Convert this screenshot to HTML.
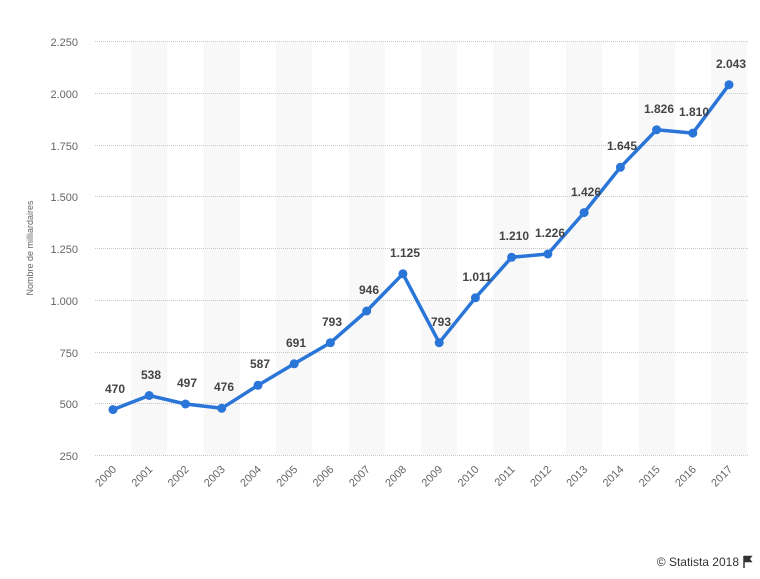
<!DOCTYPE html>
<html><head><meta charset="utf-8"><style>
html,body{margin:0;padding:0;background:#fff;width:760px;height:579px;overflow:hidden}
svg{display:block;font-family:"Liberation Sans",sans-serif}
</style></head><body>
<svg width="760" height="579" viewBox="0 0 760 579" xmlns="http://www.w3.org/2000/svg">
<g fill="#f8f8f8">
<rect x="131" y="41" width="36.2" height="414"/>
<rect x="203.5" y="41" width="36.2" height="414"/>
<rect x="276" y="41" width="36.2" height="414"/>
<rect x="348.5" y="41" width="36.2" height="414"/>
<rect x="421" y="41" width="36.2" height="414"/>
<rect x="493.5" y="41" width="36.2" height="414"/>
<rect x="566" y="41" width="36.2" height="414"/>
<rect x="638.5" y="41" width="36.2" height="414"/>
<rect x="711" y="41" width="36.2" height="414"/>
</g>
<g stroke="#c8c8c8" stroke-width="1" stroke-dasharray="1,1">
<line x1="95" x2="748" y1="41.5" y2="41.5"/>
<line x1="95" x2="748" y1="93.5" y2="93.5"/>
<line x1="95" x2="748" y1="145.5" y2="145.5"/>
<line x1="95" x2="748" y1="196.5" y2="196.5"/>
<line x1="95" x2="748" y1="248.5" y2="248.5"/>
<line x1="95" x2="748" y1="300.5" y2="300.5"/>
<line x1="95" x2="748" y1="352.5" y2="352.5"/>
<line x1="95" x2="748" y1="403.5" y2="403.5"/>
<line x1="95" x2="748" y1="455.5" y2="455.5"/>
</g>
<g font-size="11" fill="#666" text-anchor="end">
<text x="78" y="46">2.250</text>
<text x="78" y="98">2.000</text>
<text x="78" y="150">1.750</text>
<text x="78" y="201">1.500</text>
<text x="78" y="253">1.250</text>
<text x="78" y="305">1.000</text>
<text x="78" y="357">750</text>
<text x="78" y="408">500</text>
<text x="78" y="460">250</text>
</g>
<text transform="translate(33,248) rotate(-90)" font-size="9" fill="#666" text-anchor="middle">Nombre de milliardaires</text>
<g font-size="11" fill="#666" text-anchor="end">
<text transform="translate(117,470) rotate(-45)">2000</text>
<text transform="translate(153.2,470) rotate(-45)">2001</text>
<text transform="translate(189.5,470) rotate(-45)">2002</text>
<text transform="translate(225.7,470) rotate(-45)">2003</text>
<text transform="translate(262,470) rotate(-45)">2004</text>
<text transform="translate(298.2,470) rotate(-45)">2005</text>
<text transform="translate(334.4,470) rotate(-45)">2006</text>
<text transform="translate(370.7,470) rotate(-45)">2007</text>
<text transform="translate(406.9,470) rotate(-45)">2008</text>
<text transform="translate(443.2,470) rotate(-45)">2009</text>
<text transform="translate(479.4,470) rotate(-45)">2010</text>
<text transform="translate(515.6,470) rotate(-45)">2011</text>
<text transform="translate(551.9,470) rotate(-45)">2012</text>
<text transform="translate(588.1,470) rotate(-45)">2013</text>
<text transform="translate(624.4,470) rotate(-45)">2014</text>
<text transform="translate(660.6,470) rotate(-45)">2015</text>
<text transform="translate(696.8,470) rotate(-45)">2016</text>
<text transform="translate(733,470) rotate(-45)">2017</text>
</g>
<polyline fill="none" stroke="#2a75d8" stroke-width="3.5" stroke-linejoin="round" points="113,409.6 149.2,395.5 185.5,404 221.7,408.3 258,385.3 294.2,363.8 330.4,342.7 366.7,311 402.9,273.8 439.2,342.7 475.4,297.8 511.6,257.3 547.9,254 584.1,212.6 620.4,167.3 656.6,129.8 692.8,133.1 729,84.7"/>
<g fill="#2a75d8">
<circle cx="113" cy="409.6" r="4.5"/><circle cx="149.2" cy="395.5" r="4.5"/><circle cx="185.5" cy="404" r="4.5"/><circle cx="221.7" cy="408.3" r="4.5"/><circle cx="258" cy="385.3" r="4.5"/><circle cx="294.2" cy="363.8" r="4.5"/><circle cx="330.4" cy="342.7" r="4.5"/><circle cx="366.7" cy="311" r="4.5"/><circle cx="402.9" cy="273.8" r="4.5"/><circle cx="439.2" cy="342.7" r="4.5"/><circle cx="475.4" cy="297.8" r="4.5"/><circle cx="511.6" cy="257.3" r="4.5"/><circle cx="547.9" cy="254" r="4.5"/><circle cx="584.1" cy="212.6" r="4.5"/><circle cx="620.4" cy="167.3" r="4.5"/><circle cx="656.6" cy="129.8" r="4.5"/><circle cx="692.8" cy="133.1" r="4.5"/><circle cx="729" cy="84.7" r="4.5"/>
</g>
<g font-size="12" font-weight="bold" fill="#444" text-anchor="middle">
<text x="115" y="393">470</text>
<text x="151" y="379">538</text>
<text x="187" y="387">497</text>
<text x="224" y="391">476</text>
<text x="260" y="368">587</text>
<text x="296" y="347">691</text>
<text x="332" y="326">793</text>
<text x="369" y="294">946</text>
<text x="405" y="257">1.125</text>
<text x="441" y="326">793</text>
<text x="477" y="281">1.011</text>
<text x="514" y="240">1.210</text>
<text x="550" y="237">1.226</text>
<text x="586" y="196">1.426</text>
<text x="622" y="150">1.645</text>
<text x="659" y="113">1.826</text>
<text x="694" y="116">1.810</text>
<text x="731" y="68">2.043</text>
</g>
<text x="739" y="566" font-size="12" fill="#333" text-anchor="end">© Statista 2018</text>
<path d="M744 556 v12 M744 556.5 h7 l-2 2.5 l2 2.5 h-7" stroke="#333" stroke-width="1.5" fill="#333"/>
</svg>
</body></html>
